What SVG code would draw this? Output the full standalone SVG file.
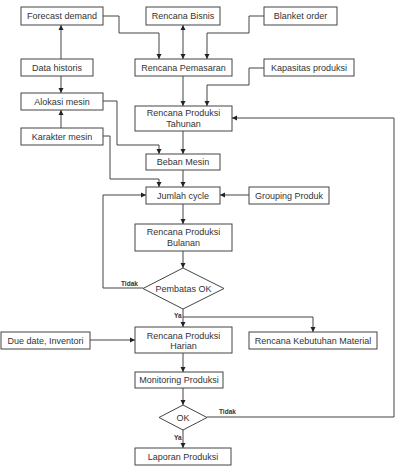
<svg xmlns="http://www.w3.org/2000/svg" width="406" height="472" viewBox="0 0 406 472">
<style>
.b{fill:#fff;stroke:#444;stroke-width:1}
.t{font-family:"Liberation Sans",Arial,sans-serif;font-size:9px;fill:#333;text-anchor:middle}
.s{font-family:"Liberation Sans",Arial,sans-serif;font-size:6.5px;fill:#333;font-weight:bold}
.c{fill:none;stroke:#444;stroke-width:1}
</style>
<defs>
<marker id="a" markerUnits="userSpaceOnUse" markerWidth="6" markerHeight="6" refX="5" refY="3" orient="auto-start-reverse" viewBox="0 0 6 6">
<path d="M0,0.5 L5,3 L0,5.5 Z" fill="#222"/>
</marker>
</defs>
<rect width="406" height="472" fill="#fff"/>
<g id="connectors">
<path class="c" d="M103,16 H119 V33 H159 V59" marker-end="url(#a)"/>
<path class="c" d="M183,25 V59" marker-start="url(#a)" marker-end="url(#a)"/>
<path class="c" d="M264,16 H249 V33 H207 V59" marker-end="url(#a)"/>
<path class="c" d="M61,59 V25" marker-end="url(#a)"/>
<path class="c" d="M61,76 V93" marker-end="url(#a)"/>
<path class="c" d="M61,128 V110" marker-end="url(#a)"/>
<path class="c" d="M183,76 V106" marker-end="url(#a)"/>
<path class="c" d="M264,68 H249 V85 H207 V106" marker-end="url(#a)"/>
<path class="c" d="M103,101 H117 V145 H159 V154" marker-end="url(#a)"/>
<path class="c" d="M183,131 V154" marker-end="url(#a)"/>
<path class="c" d="M103,136 H110 V179 H159 V187" marker-end="url(#a)"/>
<path class="c" d="M183,170 V187" marker-end="url(#a)"/>
<path class="c" d="M249,195 H220" marker-end="url(#a)"/>
<path class="c" d="M183,204 V224" marker-end="url(#a)"/>
<path class="c" d="M183,251 V268" marker-end="url(#a)"/>
<path class="c" d="M143,288 H103 V195 H146" marker-end="url(#a)"/>
<path class="c" d="M183,309 V327" marker-end="url(#a)"/>
<path class="c" d="M183,317 H313 V332" marker-end="url(#a)"/>
<path class="c" d="M90,340 H135" marker-end="url(#a)"/>
<path class="c" d="M183,353 V372" marker-end="url(#a)"/>
<path class="c" d="M183,388 V405" marker-end="url(#a)"/>
<path class="c" d="M207,417 H394 V118 H232" marker-end="url(#a)"/>
<path class="c" d="M183,430 V448" marker-end="url(#a)"/>
<text class="s" x="121" y="286">Tidak</text>
<text class="s" x="174" y="318">Ya</text>
<text class="s" x="219" y="414">Tidak</text>
<text class="s" x="174" y="440">Ya</text>
</g>
<g id="forecast"><rect class="b" x="21" y="7" width="82" height="18"/><text class="t" x="62" y="19">Forecast demand</text></g>
<g id="bisnis"><rect class="b" x="146" y="7" width="74" height="18"/><text class="t" x="183" y="19">Rencana Bisnis</text></g>
<g id="blanket"><rect class="b" x="264" y="7" width="73" height="18"/><text class="t" x="300.5" y="19">Blanket order</text></g>
<g id="historis"><rect class="b" x="21" y="59" width="72" height="17"/><text class="t" x="57" y="71">Data historis</text></g>
<g id="pemasaran"><rect class="b" x="135" y="59" width="97" height="17"/><text class="t" x="183.5" y="71">Rencana Pemasaran</text></g>
<g id="kapasitas"><rect class="b" x="264" y="59" width="90" height="17"/><text class="t" x="309" y="71">Kapasitas produksi</text></g>
<g id="alokasi"><rect class="b" x="21" y="93" width="82" height="17"/><text class="t" x="62" y="105">Alokasi mesin</text></g>
<g id="tahunan"><rect class="b" x="135" y="106" width="97" height="25"/><text class="t" x="183.5" y="116">Rencana Produksi</text><text class="t" x="183.5" y="127">Tahunan</text></g>
<g id="karakter"><rect class="b" x="21" y="128" width="82" height="17"/><text class="t" x="62" y="140">Karakter mesin</text></g>
<g id="beban"><rect class="b" x="146" y="154" width="74" height="16"/><text class="t" x="183" y="165">Beban Mesin</text></g>
<g id="jumlah"><rect class="b" x="146" y="187" width="74" height="17"/><text class="t" x="183" y="199">Jumlah cycle</text></g>
<g id="grouping"><rect class="b" x="249" y="187" width="80" height="17"/><text class="t" x="289" y="199">Grouping Produk</text></g>
<g id="bulanan"><rect class="b" x="135" y="224" width="97" height="27"/><text class="t" x="183.5" y="235">Rencana Produksi</text><text class="t" x="183.5" y="246">Bulanan</text></g>
<g id="pembatas"><polygon class="b" points="183,268 224,288.5 183,309 143,288.5"/><text class="t" x="183.5" y="292">Pembatas OK</text></g>
<g id="duedate"><rect class="b" x="1" y="332" width="89" height="17"/><text class="t" x="45.5" y="344">Due date, Inventori</text></g>
<g id="harian"><rect class="b" x="135" y="327" width="97" height="26"/><text class="t" x="183.5" y="339">Rencana Produksi</text><text class="t" x="183.5" y="349">Harian</text></g>
<g id="material"><rect class="b" x="249" y="332" width="128" height="17"/><text class="t" x="313" y="344">Rencana Kebutuhan Material</text></g>
<g id="monitoring"><rect class="b" x="135" y="372" width="88" height="16"/><text class="t" x="179" y="383">Monitoring Produksi</text></g>
<g id="ok"><polygon class="b" points="183,405 207,417.5 183,430 159,417.5"/><text class="t" x="183" y="421">OK</text></g>
<g id="laporan"><rect class="b" x="135" y="448" width="96" height="17"/><text class="t" x="183" y="460">Laporan Produksi</text></g>
</svg>
